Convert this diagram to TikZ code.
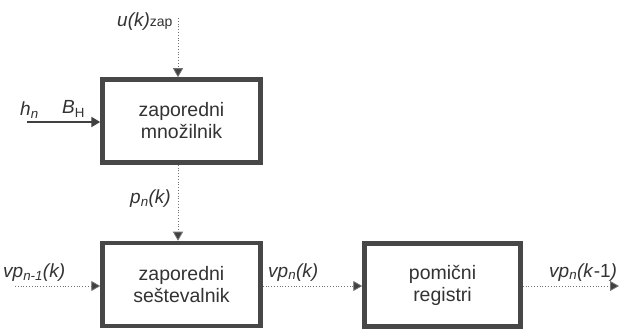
\documentclass[tikz,border=0pt]{standalone}
\usepackage{fontspec}
\setmainfont{Liberation Sans}
\usetikzlibrary{arrows.meta}
\begin{document}
\begin{tikzpicture}[x=1pt,y=-1pt,
  blockbox/.style={draw=black!72,line width=4.5pt,minimum width=158pt,minimum height=83pt,
    align=center,font=\fontsize{19.5}{22}\selectfont,text=black!80,inner sep=0pt},
  lbl/.style={font=\fontsize{19}{22}\selectfont\itshape,text=black!80,inner sep=0pt,anchor=base west},
  sig/.style={draw=black!55,dotted,line width=0.8pt,-{Triangle[length=9pt,width=10pt,fill=black!75]}},
  sigs/.style={draw=black!75,line width=2pt,-{Triangle[length=9pt,width=10pt,fill=black!75]}},
  plain/.style={draw=black!55,dotted,line width=0.8pt}]
\path[fill=white] (0,0) rectangle (621,331);
\useasboundingbox (0,0) rectangle (621,331);
\node[blockbox] (mul) at (181.5,121) {zaporedni\\množilnik};
\node[blockbox] (add) at (181.5,284.5) {zaporedni\\seštevalnik};
\node[blockbox,minimum width=156pt] (reg) at (442.5,285) {pomični\\registri};
\coordinate (utop) at (178,18);
\coordinate (hin) at (27,122);
\coordinate (vin) at (15,286);
\coordinate (vout) at (619,286);
\node[lbl] (ulab) at (117,27) {u(k)\textup{\fontsize{14}{14}\selectfont zap}};
\node[lbl] (hlab) at (20,116) {h\textsubscript{n}};
\node[lbl] (blab) at (62,114) {B\textsubscript{\upshape H}};
\node[lbl] (plab) at (130,204) {p\textsubscript{n}(k)};
\node[lbl] (v1lab) at (3,277) {vp\textsubscript{n-1}(k)};
\node[lbl] (v2lab) at (268,277) {vp\textsubscript{n}(k)};
\node[lbl] (v3lab) at (549,277) {vp\textsubscript{n}(k\textup{-1})};
\draw[sig] (utop) -- (utop |- mul.north);
\draw[sigs] (hin) -- (hin -| mul.west);
\draw[sig] (mul.south -| utop) -- (add.north -| utop);
\draw[sig] (vin) -- (vin -| add.west);
\draw[sig] (add.east |- vin) -- (reg.west |- vin);
\draw[sig] (reg.east |- vin) -- (vout);
\end{tikzpicture}
\end{document}
